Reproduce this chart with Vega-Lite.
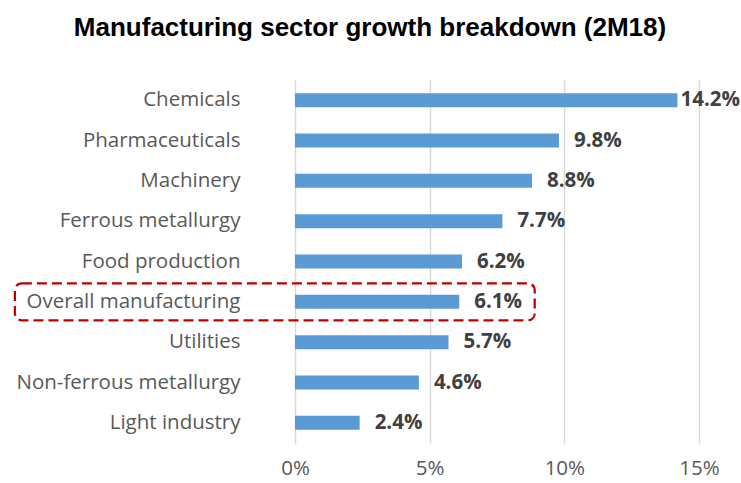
{
  "$schema": "https://vega.github.io/schema/vega-lite/v6.json",
  "width": 404,
  "height": 363,
  "autosize": {"type": "none"},
  "padding": {"left": 295, "top": 80, "right": 42, "bottom": 40},
  "background": "white",
  "config": {"view": {"stroke": null}},
  "title": {
    "text": "Manufacturing sector growth breakdown (2M18)",
    "font": "Liberation Sans",
    "fontSize": 26,
    "fontWeight": "bold",
    "color": "#000000",
    "anchor": "middle",
    "dx": -127,
    "offset": 39
  },
  "data": {
    "values": [
      {"sector": "Chemicals", "value": 0.142},
      {"sector": "Pharmaceuticals", "value": 0.098},
      {"sector": "Machinery", "value": 0.088},
      {"sector": "Ferrous metallurgy", "value": 0.077},
      {"sector": "Food production", "value": 0.062},
      {"sector": "Overall manufacturing", "value": 0.061},
      {"sector": "Utilities", "value": 0.057},
      {"sector": "Non-ferrous metallurgy", "value": 0.046},
      {"sector": "Light industry", "value": 0.024}
    ]
  },
  "encoding": {
    "y": {
      "field": "sector",
      "type": "nominal",
      "sort": null,
      "title": null,
      "scale": {"paddingInner": 0.08, "paddingOuter": 0.04},
      "axis": {
        "domain": false,
        "ticks": false,
        "labelPadding": 55,
        "labelFont": "Open Sans",
        "labelFontSize": 20.5,
        "labelColor": "#595959",
        "labelLimit": 300
      }
    }
  },
  "layer": [
    {
      "mark": {"type": "bar", "size": 14, "color": "#5B9BD5"},
      "encoding": {
        "x": {
          "field": "value",
          "type": "quantitative",
          "title": null,
          "scale": {"domain": [0, 0.15], "nice": false},
          "axis": {
            "values": [0, 0.05, 0.1, 0.15],
            "format": ".0%",
            "domain": false,
            "ticks": false,
            "grid": true,
            "gridColor": "#d9d9d9",
            "gridWidth": 1.5,
            "labelFlush": false,
            "labelPadding": 15,
            "labelFont": "Open Sans",
            "labelFontSize": 20.5,
            "labelColor": "#595959"
          }
        }
      }
    },
    {
      "transform": [{"filter": "datum.value < 0.14"}],
      "mark": {"type": "text", "align": "left", "dx": 15, "font": "Open Sans", "fontSize": 20.5, "fontWeight": "bold", "color": "#404040"},
      "encoding": {
        "x": {"field": "value", "type": "quantitative"},
        "text": {"field": "value", "type": "quantitative", "format": ".1%"}
      }
    },
    {
      "transform": [{"filter": "datum.value >= 0.14"}],
      "mark": {"type": "text", "align": "left", "dx": 3, "font": "Open Sans", "fontSize": 20.5, "fontWeight": "bold", "color": "#404040"},
      "encoding": {
        "x": {"field": "value", "type": "quantitative"},
        "text": {"field": "value", "type": "quantitative", "format": ".1%"}
      }
    },
    {
      "data": {"values": [{}]},
      "mark": {"type": "rect", "fill": null, "stroke": "#C00000", "strokeWidth": 2.25, "strokeDash": [10, 5], "cornerRadius": 7, "clip": false},
      "encoding": {
        "x": {"datum": -0.104},
        "x2": {"datum": 0.089},
        "y": {"datum": "Overall manufacturing"}
      }
    }
  ]
}
